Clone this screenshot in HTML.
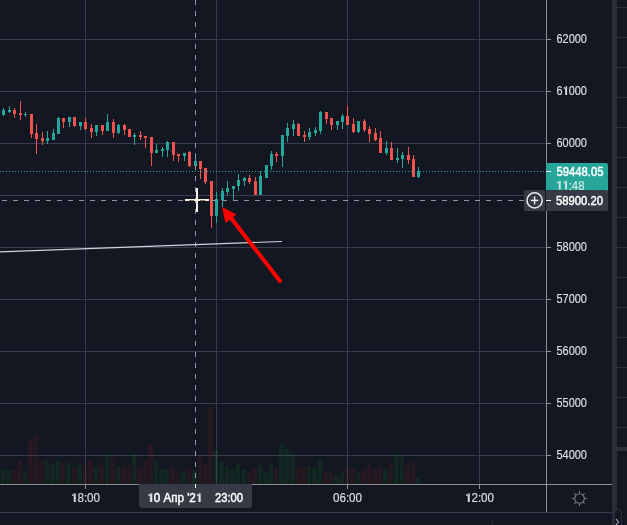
<!DOCTYPE html>
<html><head><meta charset="utf-8"><style>
html,body{margin:0;padding:0;background:#131722;width:627px;height:525px;overflow:hidden}
svg{display:block}
.t{font-family:"Liberation Sans",sans-serif;font-size:12px;fill:#dadde4;stroke:#dadde4;stroke-width:0.2px}
.w{fill:#ffffff;stroke:#ffffff;stroke-width:0.45px}
.c{fill:#cfe9e6;stroke:#cfe9e6}
text{will-change:transform}
.h{fill-opacity:0;stroke-opacity:0}
.g{stroke:none}
path.t{fill:#dadde4}
path.w{fill:#ffffff}
path.c{fill:#cfe9e6}
</style></head><body>
<svg width="627" height="525" viewBox="0 0 627 525" shape-rendering="auto">
<rect x="0" y="39" width="546" height="1" fill="#363c4e"/>
<rect x="0" y="91" width="546" height="1" fill="#363c4e"/>
<rect x="0" y="143" width="546" height="1" fill="#363c4e"/>
<rect x="0" y="195" width="546" height="1" fill="#363c4e"/>
<rect x="0" y="247" width="546" height="1" fill="#363c4e"/>
<rect x="0" y="299" width="546" height="1" fill="#363c4e"/>
<rect x="0" y="351" width="546" height="1" fill="#363c4e"/>
<rect x="0" y="403" width="546" height="1" fill="#363c4e"/>
<rect x="0" y="455" width="546" height="1" fill="#363c4e"/>
<rect x="85" y="0" width="1" height="484" fill="#363c4e"/>
<rect x="216" y="0" width="1" height="484" fill="#363c4e"/>
<rect x="347" y="0" width="1" height="484" fill="#363c4e"/>
<rect x="479" y="0" width="1" height="484" fill="#363c4e"/>
<rect x="1" y="469" width="4" height="15" fill="rgba(25,150,34,0.134)"/>
<rect x="6" y="470" width="5" height="14" fill="rgba(25,150,34,0.134)"/>
<rect x="12" y="470" width="4" height="14" fill="rgba(199,43,34,0.1)"/>
<rect x="17" y="460" width="5" height="24" fill="rgba(199,43,34,0.1)"/>
<rect x="23" y="471" width="4" height="13" fill="rgba(25,150,34,0.134)"/>
<rect x="28" y="440" width="5" height="44" fill="rgba(199,43,34,0.1)"/>
<rect x="34" y="434" width="4" height="50" fill="rgba(199,43,34,0.1)"/>
<rect x="39" y="461" width="5" height="23" fill="rgba(199,43,34,0.1)"/>
<rect x="45" y="460" width="4" height="24" fill="rgba(25,150,34,0.134)"/>
<rect x="50" y="464" width="5" height="20" fill="rgba(25,150,34,0.134)"/>
<rect x="56" y="461" width="4" height="23" fill="rgba(25,150,34,0.134)"/>
<rect x="61" y="463" width="4" height="21" fill="rgba(199,43,34,0.1)"/>
<rect x="66" y="463" width="5" height="21" fill="rgba(25,150,34,0.134)"/>
<rect x="72" y="468" width="4" height="16" fill="rgba(199,43,34,0.1)"/>
<rect x="77" y="465" width="5" height="19" fill="rgba(25,150,34,0.134)"/>
<rect x="83" y="465" width="4" height="19" fill="rgba(199,43,34,0.1)"/>
<rect x="88" y="460" width="5" height="24" fill="rgba(199,43,34,0.1)"/>
<rect x="94" y="467" width="4" height="17" fill="rgba(25,150,34,0.134)"/>
<rect x="99" y="465" width="5" height="19" fill="rgba(199,43,34,0.1)"/>
<rect x="105" y="454" width="4" height="30" fill="rgba(25,150,34,0.134)"/>
<rect x="110" y="458" width="5" height="26" fill="rgba(199,43,34,0.1)"/>
<rect x="116" y="466" width="4" height="18" fill="rgba(25,150,34,0.134)"/>
<rect x="121" y="466" width="5" height="18" fill="rgba(199,43,34,0.1)"/>
<rect x="127" y="465" width="4" height="19" fill="rgba(199,43,34,0.1)"/>
<rect x="132" y="454" width="4" height="30" fill="rgba(25,150,34,0.134)"/>
<rect x="137" y="467" width="5" height="17" fill="rgba(199,43,34,0.1)"/>
<rect x="143" y="460" width="4" height="24" fill="rgba(199,43,34,0.1)"/>
<rect x="148" y="443" width="5" height="41" fill="rgba(199,43,34,0.1)"/>
<rect x="154" y="461" width="4" height="23" fill="rgba(25,150,34,0.134)"/>
<rect x="159" y="469" width="5" height="15" fill="rgba(25,150,34,0.134)"/>
<rect x="165" y="470" width="4" height="14" fill="rgba(25,150,34,0.134)"/>
<rect x="170" y="466" width="5" height="18" fill="rgba(199,43,34,0.1)"/>
<rect x="176" y="473" width="4" height="11" fill="rgba(199,43,34,0.1)"/>
<rect x="181" y="471" width="5" height="13" fill="rgba(25,150,34,0.134)"/>
<rect x="187" y="468" width="4" height="16" fill="rgba(199,43,34,0.1)"/>
<rect x="192" y="470" width="5" height="14" fill="rgba(25,150,34,0.134)"/>
<rect x="198" y="455" width="4" height="29" fill="rgba(199,43,34,0.1)"/>
<rect x="203" y="463" width="4" height="21" fill="rgba(199,43,34,0.1)"/>
<rect x="208" y="407" width="5" height="77" fill="rgba(199,43,34,0.1)"/>
<rect x="214" y="451" width="4" height="33" fill="rgba(25,150,34,0.134)"/>
<rect x="219" y="462" width="5" height="22" fill="rgba(25,150,34,0.134)"/>
<rect x="225" y="466" width="4" height="18" fill="rgba(25,150,34,0.134)"/>
<rect x="230" y="469" width="5" height="15" fill="rgba(25,150,34,0.134)"/>
<rect x="236" y="464" width="4" height="20" fill="rgba(25,150,34,0.134)"/>
<rect x="241" y="470" width="5" height="14" fill="rgba(25,150,34,0.134)"/>
<rect x="247" y="472" width="4" height="12" fill="rgba(199,43,34,0.1)"/>
<rect x="252" y="468" width="5" height="16" fill="rgba(199,43,34,0.1)"/>
<rect x="258" y="465" width="4" height="19" fill="rgba(25,150,34,0.134)"/>
<rect x="263" y="471" width="5" height="13" fill="rgba(25,150,34,0.134)"/>
<rect x="269" y="463" width="4" height="21" fill="rgba(25,150,34,0.134)"/>
<rect x="274" y="468" width="4" height="16" fill="rgba(199,43,34,0.1)"/>
<rect x="279" y="444" width="5" height="40" fill="rgba(25,150,34,0.134)"/>
<rect x="285" y="449" width="4" height="35" fill="rgba(25,150,34,0.134)"/>
<rect x="290" y="454" width="5" height="30" fill="rgba(25,150,34,0.134)"/>
<rect x="296" y="467" width="4" height="17" fill="rgba(199,43,34,0.1)"/>
<rect x="301" y="466" width="5" height="18" fill="rgba(199,43,34,0.1)"/>
<rect x="307" y="467" width="4" height="17" fill="rgba(25,150,34,0.134)"/>
<rect x="312" y="469" width="5" height="15" fill="rgba(25,150,34,0.134)"/>
<rect x="318" y="460" width="4" height="24" fill="rgba(25,150,34,0.134)"/>
<rect x="323" y="471" width="5" height="13" fill="rgba(199,43,34,0.1)"/>
<rect x="329" y="472" width="4" height="12" fill="rgba(199,43,34,0.1)"/>
<rect x="334" y="475" width="5" height="9" fill="rgba(25,150,34,0.134)"/>
<rect x="340" y="471" width="4" height="13" fill="rgba(25,150,34,0.134)"/>
<rect x="345" y="467" width="4" height="17" fill="rgba(199,43,34,0.1)"/>
<rect x="350" y="469" width="5" height="15" fill="rgba(199,43,34,0.1)"/>
<rect x="356" y="473" width="4" height="11" fill="rgba(25,150,34,0.134)"/>
<rect x="361" y="470" width="5" height="14" fill="rgba(199,43,34,0.1)"/>
<rect x="367" y="464" width="4" height="20" fill="rgba(199,43,34,0.1)"/>
<rect x="372" y="470" width="5" height="14" fill="rgba(199,43,34,0.1)"/>
<rect x="378" y="467" width="4" height="17" fill="rgba(199,43,34,0.1)"/>
<rect x="383" y="469" width="5" height="15" fill="rgba(25,150,34,0.134)"/>
<rect x="389" y="463" width="4" height="21" fill="rgba(199,43,34,0.1)"/>
<rect x="394" y="454" width="5" height="30" fill="rgba(25,150,34,0.134)"/>
<rect x="400" y="457" width="4" height="27" fill="rgba(25,150,34,0.134)"/>
<rect x="405" y="465" width="5" height="19" fill="rgba(199,43,34,0.1)"/>
<rect x="411" y="461" width="4" height="23" fill="rgba(199,43,34,0.1)"/>
<rect x="416" y="478" width="4" height="6" fill="rgba(25,150,34,0.134)"/>
<rect x="3" y="108" width="1" height="8" fill="#26a69a"/>
<rect x="2" y="110" width="3" height="5" fill="#26a69a"/>
<rect x="9" y="106" width="1" height="7" fill="#26a69a"/>
<rect x="8" y="110" width="3" height="2" fill="#26a69a"/>
<rect x="14" y="108" width="1" height="10" fill="#ef5350"/>
<rect x="13" y="110" width="3" height="4" fill="#ef5350"/>
<rect x="20" y="101" width="1" height="19" fill="#ef5350"/>
<rect x="19" y="113" width="3" height="2" fill="#ef5350"/>
<rect x="25" y="112" width="1" height="5" fill="#26a69a"/>
<rect x="24" y="114" width="3" height="1" fill="#26a69a"/>
<rect x="31" y="114" width="1" height="24" fill="#ef5350"/>
<rect x="30" y="114" width="3" height="20" fill="#ef5350"/>
<rect x="36" y="124" width="1" height="30" fill="#ef5350"/>
<rect x="35" y="133" width="3" height="6" fill="#ef5350"/>
<rect x="42" y="132" width="1" height="13" fill="#ef5350"/>
<rect x="41" y="138" width="3" height="3" fill="#ef5350"/>
<rect x="47" y="131" width="1" height="13" fill="#26a69a"/>
<rect x="46" y="138" width="3" height="3" fill="#26a69a"/>
<rect x="53" y="129" width="1" height="11" fill="#26a69a"/>
<rect x="52" y="133" width="3" height="7" fill="#26a69a"/>
<rect x="58" y="117" width="1" height="17" fill="#26a69a"/>
<rect x="57" y="118" width="3" height="16" fill="#26a69a"/>
<rect x="63" y="118" width="1" height="10" fill="#ef5350"/>
<rect x="62" y="118" width="3" height="4" fill="#ef5350"/>
<rect x="69" y="117" width="1" height="10" fill="#26a69a"/>
<rect x="68" y="117" width="3" height="5" fill="#26a69a"/>
<rect x="74" y="117" width="1" height="10" fill="#ef5350"/>
<rect x="73" y="117" width="3" height="9" fill="#ef5350"/>
<rect x="80" y="122" width="1" height="8" fill="#26a69a"/>
<rect x="79" y="122" width="3" height="4" fill="#26a69a"/>
<rect x="85" y="118" width="1" height="12" fill="#ef5350"/>
<rect x="84" y="122" width="3" height="7" fill="#ef5350"/>
<rect x="91" y="124" width="1" height="14" fill="#ef5350"/>
<rect x="90" y="128" width="3" height="4" fill="#ef5350"/>
<rect x="96" y="125" width="1" height="11" fill="#26a69a"/>
<rect x="95" y="125" width="3" height="7" fill="#26a69a"/>
<rect x="102" y="125" width="1" height="10" fill="#ef5350"/>
<rect x="101" y="125" width="3" height="6" fill="#ef5350"/>
<rect x="107" y="114" width="1" height="17" fill="#26a69a"/>
<rect x="106" y="122" width="3" height="9" fill="#26a69a"/>
<rect x="113" y="119" width="1" height="19" fill="#ef5350"/>
<rect x="112" y="122" width="3" height="11" fill="#ef5350"/>
<rect x="118" y="124" width="1" height="10" fill="#26a69a"/>
<rect x="117" y="125" width="3" height="8" fill="#26a69a"/>
<rect x="124" y="124" width="1" height="11" fill="#ef5350"/>
<rect x="123" y="125" width="3" height="5" fill="#ef5350"/>
<rect x="129" y="129" width="1" height="8" fill="#ef5350"/>
<rect x="128" y="129" width="3" height="8" fill="#ef5350"/>
<rect x="134" y="133" width="1" height="12" fill="#26a69a"/>
<rect x="133" y="135" width="3" height="2" fill="#26a69a"/>
<rect x="140" y="131" width="1" height="9" fill="#ef5350"/>
<rect x="139" y="135" width="3" height="2" fill="#ef5350"/>
<rect x="145" y="136" width="1" height="12" fill="#ef5350"/>
<rect x="144" y="136" width="3" height="2" fill="#ef5350"/>
<rect x="151" y="137" width="1" height="29" fill="#ef5350"/>
<rect x="150" y="137" width="3" height="16" fill="#ef5350"/>
<rect x="156" y="144" width="1" height="9" fill="#26a69a"/>
<rect x="155" y="150" width="3" height="3" fill="#26a69a"/>
<rect x="162" y="147" width="1" height="10" fill="#26a69a"/>
<rect x="161" y="149" width="3" height="2" fill="#26a69a"/>
<rect x="167" y="141" width="1" height="16" fill="#26a69a"/>
<rect x="166" y="142" width="3" height="8" fill="#26a69a"/>
<rect x="173" y="142" width="1" height="19" fill="#ef5350"/>
<rect x="172" y="142" width="3" height="13" fill="#ef5350"/>
<rect x="178" y="154" width="1" height="8" fill="#ef5350"/>
<rect x="177" y="154" width="3" height="2" fill="#ef5350"/>
<rect x="184" y="153" width="1" height="8" fill="#26a69a"/>
<rect x="183" y="153" width="3" height="3" fill="#26a69a"/>
<rect x="189" y="151" width="1" height="16" fill="#ef5350"/>
<rect x="188" y="152" width="3" height="14" fill="#ef5350"/>
<rect x="195" y="153" width="1" height="13" fill="#26a69a"/>
<rect x="194" y="161" width="3" height="5" fill="#26a69a"/>
<rect x="200" y="161" width="1" height="18" fill="#ef5350"/>
<rect x="199" y="161" width="3" height="8" fill="#ef5350"/>
<rect x="205" y="168" width="1" height="16" fill="#ef5350"/>
<rect x="204" y="168" width="3" height="14" fill="#ef5350"/>
<rect x="211" y="181" width="1" height="47" fill="#ef5350"/>
<rect x="210" y="181" width="3" height="35" fill="#ef5350"/>
<rect x="216" y="192" width="1" height="31" fill="#26a69a"/>
<rect x="215" y="199" width="3" height="17" fill="#26a69a"/>
<rect x="222" y="188" width="1" height="19" fill="#26a69a"/>
<rect x="221" y="191" width="3" height="9" fill="#26a69a"/>
<rect x="227" y="181" width="1" height="14" fill="#26a69a"/>
<rect x="226" y="188" width="3" height="4" fill="#26a69a"/>
<rect x="233" y="186" width="1" height="14" fill="#26a69a"/>
<rect x="232" y="186" width="3" height="3" fill="#26a69a"/>
<rect x="238" y="174" width="1" height="17" fill="#26a69a"/>
<rect x="237" y="180" width="3" height="6" fill="#26a69a"/>
<rect x="244" y="177" width="1" height="9" fill="#26a69a"/>
<rect x="243" y="178" width="3" height="3" fill="#26a69a"/>
<rect x="249" y="175" width="1" height="9" fill="#ef5350"/>
<rect x="248" y="178" width="3" height="4" fill="#ef5350"/>
<rect x="255" y="177" width="1" height="18" fill="#ef5350"/>
<rect x="254" y="181" width="3" height="14" fill="#ef5350"/>
<rect x="260" y="171" width="1" height="24" fill="#26a69a"/>
<rect x="259" y="176" width="3" height="19" fill="#26a69a"/>
<rect x="266" y="165" width="1" height="13" fill="#26a69a"/>
<rect x="265" y="165" width="3" height="13" fill="#26a69a"/>
<rect x="271" y="151" width="1" height="19" fill="#26a69a"/>
<rect x="270" y="154" width="3" height="12" fill="#26a69a"/>
<rect x="276" y="152" width="1" height="10" fill="#ef5350"/>
<rect x="275" y="154" width="3" height="2" fill="#ef5350"/>
<rect x="282" y="135" width="1" height="32" fill="#26a69a"/>
<rect x="281" y="135" width="3" height="21" fill="#26a69a"/>
<rect x="287" y="123" width="1" height="19" fill="#26a69a"/>
<rect x="286" y="128" width="3" height="8" fill="#26a69a"/>
<rect x="293" y="120" width="1" height="16" fill="#26a69a"/>
<rect x="292" y="124" width="3" height="5" fill="#26a69a"/>
<rect x="298" y="123" width="1" height="13" fill="#ef5350"/>
<rect x="297" y="124" width="3" height="12" fill="#ef5350"/>
<rect x="304" y="131" width="1" height="11" fill="#ef5350"/>
<rect x="303" y="135" width="3" height="2" fill="#ef5350"/>
<rect x="309" y="128" width="1" height="12" fill="#26a69a"/>
<rect x="308" y="132" width="3" height="5" fill="#26a69a"/>
<rect x="315" y="127" width="1" height="9" fill="#26a69a"/>
<rect x="314" y="130" width="3" height="3" fill="#26a69a"/>
<rect x="320" y="111" width="1" height="23" fill="#26a69a"/>
<rect x="319" y="112" width="3" height="19" fill="#26a69a"/>
<rect x="326" y="112" width="1" height="12" fill="#ef5350"/>
<rect x="325" y="112" width="3" height="7" fill="#ef5350"/>
<rect x="331" y="118" width="1" height="12" fill="#ef5350"/>
<rect x="330" y="118" width="3" height="7" fill="#ef5350"/>
<rect x="337" y="121" width="1" height="9" fill="#26a69a"/>
<rect x="336" y="121" width="3" height="4" fill="#26a69a"/>
<rect x="342" y="114" width="1" height="15" fill="#26a69a"/>
<rect x="341" y="116" width="3" height="6" fill="#26a69a"/>
<rect x="347" y="106" width="1" height="19" fill="#ef5350"/>
<rect x="346" y="116" width="3" height="9" fill="#ef5350"/>
<rect x="353" y="118" width="1" height="15" fill="#ef5350"/>
<rect x="352" y="124" width="3" height="8" fill="#ef5350"/>
<rect x="358" y="121" width="1" height="12" fill="#26a69a"/>
<rect x="357" y="121" width="3" height="11" fill="#26a69a"/>
<rect x="364" y="119" width="1" height="13" fill="#ef5350"/>
<rect x="363" y="121" width="3" height="9" fill="#ef5350"/>
<rect x="369" y="126" width="1" height="16" fill="#ef5350"/>
<rect x="368" y="129" width="3" height="5" fill="#ef5350"/>
<rect x="375" y="128" width="1" height="13" fill="#ef5350"/>
<rect x="374" y="133" width="3" height="7" fill="#ef5350"/>
<rect x="380" y="131" width="1" height="22" fill="#ef5350"/>
<rect x="379" y="138" width="3" height="15" fill="#ef5350"/>
<rect x="386" y="141" width="1" height="14" fill="#26a69a"/>
<rect x="385" y="148" width="3" height="5" fill="#26a69a"/>
<rect x="391" y="142" width="1" height="18" fill="#ef5350"/>
<rect x="390" y="148" width="3" height="12" fill="#ef5350"/>
<rect x="397" y="148" width="1" height="15" fill="#26a69a"/>
<rect x="396" y="158" width="3" height="2" fill="#26a69a"/>
<rect x="402" y="152" width="1" height="16" fill="#26a69a"/>
<rect x="401" y="155" width="3" height="4" fill="#26a69a"/>
<rect x="408" y="147" width="1" height="17" fill="#ef5350"/>
<rect x="407" y="155" width="3" height="5" fill="#ef5350"/>
<rect x="413" y="155" width="1" height="22" fill="#ef5350"/>
<rect x="412" y="159" width="3" height="18" fill="#ef5350"/>
<rect x="418" y="167" width="1" height="11" fill="#26a69a"/>
<rect x="417" y="171" width="3" height="6" fill="#26a69a"/>
<line x1="0" y1="171.5" x2="546" y2="171.5" stroke="#26a69a" stroke-width="1" stroke-dasharray="1 2"/>
<line x1="195.5" y1="0" x2="195.5" y2="484" stroke="#8a98a8" stroke-width="1" stroke-dasharray="5 6"/>
<line x1="2" y1="200.5" x2="546" y2="200.5" stroke="#8a98a8" stroke-width="1" stroke-dasharray="5 6"/>
<line x1="-1" y1="252" x2="281.5" y2="241.5" stroke="#d1d4dc" stroke-width="1.2" stroke-linecap="round"/>
<line x1="280" y1="281" x2="231" y2="218" stroke="#ff0000" stroke-width="4" stroke-linecap="round"/>
<polygon points="222,207 236.5,214.5 225.5,223" fill="#ff0000"/>
<rect x="185" y="199" width="24" height="2" fill="#f6f2e6"/><rect x="196" y="188" width="2" height="24" fill="#f6f2e6"/><rect x="189" y="200" width="5" height="1" fill="#8c7355"/><rect x="200" y="200" width="5" height="1" fill="#8c7355"/>
<rect x="0" y="484" width="612" height="1" fill="#8f8f8f"/>
<rect x="546" y="0" width="1" height="512" fill="#8f8f8f"/>
<rect x="547" y="39" width="4" height="1" fill="#8f8f8f"/>
<g transform="translate(556.5,43) scale(0.91,1)"><text class="t" text-anchor="start" >62000</text></g>
<rect x="547" y="91" width="4" height="1" fill="#8f8f8f"/>
<g transform="translate(556.5,95) scale(0.91,1)"><text class="t" text-anchor="start" >6<tspan class="h">1</tspan>000</text><path transform="translate(6.68,0)" d="M2.9,0V-8.8H4.95V0Z M3.99,-7.78L3.21,-8.82L0.91,-7.12L1.69,-6.08Z" class="g t"/></g>
<rect x="547" y="143" width="4" height="1" fill="#8f8f8f"/>
<g transform="translate(556.5,147) scale(0.91,1)"><text class="t" text-anchor="start" >60000</text></g>
<rect x="547" y="195" width="4" height="1" fill="#8f8f8f"/>
<rect x="547" y="247" width="4" height="1" fill="#8f8f8f"/>
<g transform="translate(556.5,251) scale(0.91,1)"><text class="t" text-anchor="start" >58000</text></g>
<rect x="547" y="299" width="4" height="1" fill="#8f8f8f"/>
<g transform="translate(556.5,303) scale(0.91,1)"><text class="t" text-anchor="start" >57000</text></g>
<rect x="547" y="351" width="4" height="1" fill="#8f8f8f"/>
<g transform="translate(556.5,355) scale(0.91,1)"><text class="t" text-anchor="start" >56000</text></g>
<rect x="547" y="403" width="4" height="1" fill="#8f8f8f"/>
<g transform="translate(556.5,407) scale(0.91,1)"><text class="t" text-anchor="start" >55000</text></g>
<rect x="547" y="455" width="4" height="1" fill="#8f8f8f"/>
<g transform="translate(556.5,459) scale(0.91,1)"><text class="t" text-anchor="start" >54000</text></g>
<rect x="85" y="485" width="1" height="4" fill="#8f8f8f"/>
<g transform="translate(85.5,502) scale(0.97,1)"><text class="t" text-anchor="middle" ><tspan class="h">1</tspan>8:00</text><path transform="translate(-15.01,0)" d="M2.9,0V-8.8H4.95V0Z M3.99,-7.78L3.21,-8.82L0.91,-7.12L1.69,-6.08Z" class="g t"/></g>
<rect x="347" y="485" width="1" height="4" fill="#8f8f8f"/>
<g transform="translate(347.5,502) scale(0.97,1)"><text class="t" text-anchor="middle" >06:00</text></g>
<rect x="479" y="485" width="1" height="4" fill="#8f8f8f"/>
<g transform="translate(479.5,502) scale(0.97,1)"><text class="t" text-anchor="middle" ><tspan class="h">1</tspan>2:00</text><path transform="translate(-15.01,0)" d="M2.9,0V-8.8H4.95V0Z M3.99,-7.78L3.21,-8.82L0.91,-7.12L1.69,-6.08Z" class="g t"/></g>
<path d="M139,484 H252 V505 Q252,508 249,508 H142 Q139,508 139,505 Z" fill="#363a45"/>
<rect x="195" y="484" width="1" height="4" fill="#ffffff"/>
<g transform="translate(147.2,502) scale(0.97,1)"><text class="t w" text-anchor="start" ><tspan class="h">1</tspan>0 Апр '2<tspan class="h">1</tspan></text><path transform="translate(0.00,0)" d="M2.9,0V-8.8H4.95V0Z M3.99,-7.78L3.21,-8.82L0.91,-7.12L1.69,-6.08Z" class="g t w"/><path transform="translate(50.12,0)" d="M2.9,0V-8.8H4.95V0Z M3.99,-7.78L3.21,-8.82L0.91,-7.12L1.69,-6.08Z" class="g t w"/></g>
<g transform="translate(215,502) scale(0.93,1)"><text class="t w" text-anchor="start" >23:00</text></g>
<path d="M546,163 H606 Q608,163 608,165 V191 H546 Z" fill="#26a69a"/>
<rect x="546" y="171" width="5" height="1" fill="#ffffff"/>
<g transform="translate(556.5,176) scale(0.94,1)"><text class="t w" text-anchor="start" >59448.05</text></g>
<g transform="translate(556,189.5) scale(0.95,1)"><text class="t c" text-anchor="start" ><tspan class="h">1</tspan><tspan class="h">1</tspan>:48</text><path transform="translate(0.00,0)" d="M2.9,0V-8.8H4.95V0Z M3.99,-7.78L3.21,-8.82L0.91,-7.12L1.69,-6.08Z" class="g t c"/><path transform="translate(6.68,0)" d="M2.9,0V-8.8H4.95V0Z M3.99,-7.78L3.21,-8.82L0.91,-7.12L1.69,-6.08Z" class="g t c"/></g>
<path d="M526,190 H606 Q608,190 608,192 V209 Q608,211 606,211 H526 Q524,211 524,209 V192 Q524,190 526,190 Z" fill="#363a45"/>
<circle cx="534.6" cy="200.4" r="7.55" fill="none" stroke="#ececec" stroke-width="1.5"/>
<rect x="530.8" y="199.7" width="7.5" height="1.4" fill="#f4f4f4"/>
<rect x="533.9" y="196.5" width="1.4" height="7.7" fill="#f4f4f4"/><rect x="545" y="190" width="1" height="21" fill="#131722"/>
<rect x="546" y="200" width="5" height="1" fill="#ffffff"/>
<g transform="translate(556,205) scale(0.94,1)"><text class="t w" text-anchor="start" >58900.20</text></g>
<g stroke="#787b86" stroke-width="1.1" fill="none"><circle cx="579.5" cy="498.5" r="4.8"/><line x1="584.70" y1="498.50" x2="587.10" y2="498.50"/><line x1="583.18" y1="502.18" x2="584.52" y2="503.52"/><line x1="579.50" y1="503.70" x2="579.50" y2="506.10"/><line x1="575.82" y1="502.18" x2="574.48" y2="503.52"/><line x1="574.30" y1="498.50" x2="571.90" y2="498.50"/><line x1="575.82" y1="494.82" x2="574.48" y2="493.48"/><line x1="579.50" y1="493.30" x2="579.50" y2="490.90"/><line x1="583.18" y1="494.82" x2="584.52" y2="493.48"/></g>
<rect x="492" y="521" width="1" height="4" fill="#2a2e39"/>
<rect x="0" y="512" width="612" height="1" fill="#363c4e"/>
<rect x="612" y="0" width="5" height="525" fill="#2a2e39"/>
<rect x="617" y="0" width="10" height="525" fill="#131722"/>
<rect x="617" y="7" width="10" height="1" fill="#2a2e39"/>
<rect x="617" y="37" width="10" height="1" fill="#2a2e39"/>
<rect x="617" y="67" width="10" height="1" fill="#2a2e39"/>
<rect x="617" y="97" width="10" height="1" fill="#2a2e39"/>
<rect x="617" y="127" width="10" height="1" fill="#2a2e39"/>
<rect x="617" y="157" width="10" height="1" fill="#2a2e39"/>
<rect x="617" y="187" width="10" height="1" fill="#2a2e39"/>
<rect x="617" y="217" width="10" height="1" fill="#2a2e39"/>
<rect x="617" y="247" width="10" height="1" fill="#2a2e39"/>
<rect x="617" y="277" width="10" height="1" fill="#2a2e39"/>
<rect x="617" y="307" width="10" height="1" fill="#2a2e39"/>
<rect x="617" y="337" width="10" height="1" fill="#2a2e39"/>
<rect x="617" y="367" width="10" height="1" fill="#2a2e39"/>
<rect x="617" y="397" width="10" height="1" fill="#2a2e39"/>
<rect x="617" y="427" width="10" height="1" fill="#2a2e39"/>
<rect x="617" y="447" width="10" height="4" fill="#2a2e39"/>
<path d="M614.5,526 V513 A3.5,3.5 0 0 1 621.5,513 V526" fill="#131722" stroke="#2a2e39" stroke-width="1"/>
<path d="M616,519 L618.5,522 L616,525" stroke="#a9b6c2" stroke-width="1.1" fill="none"/>
</svg></body></html>
